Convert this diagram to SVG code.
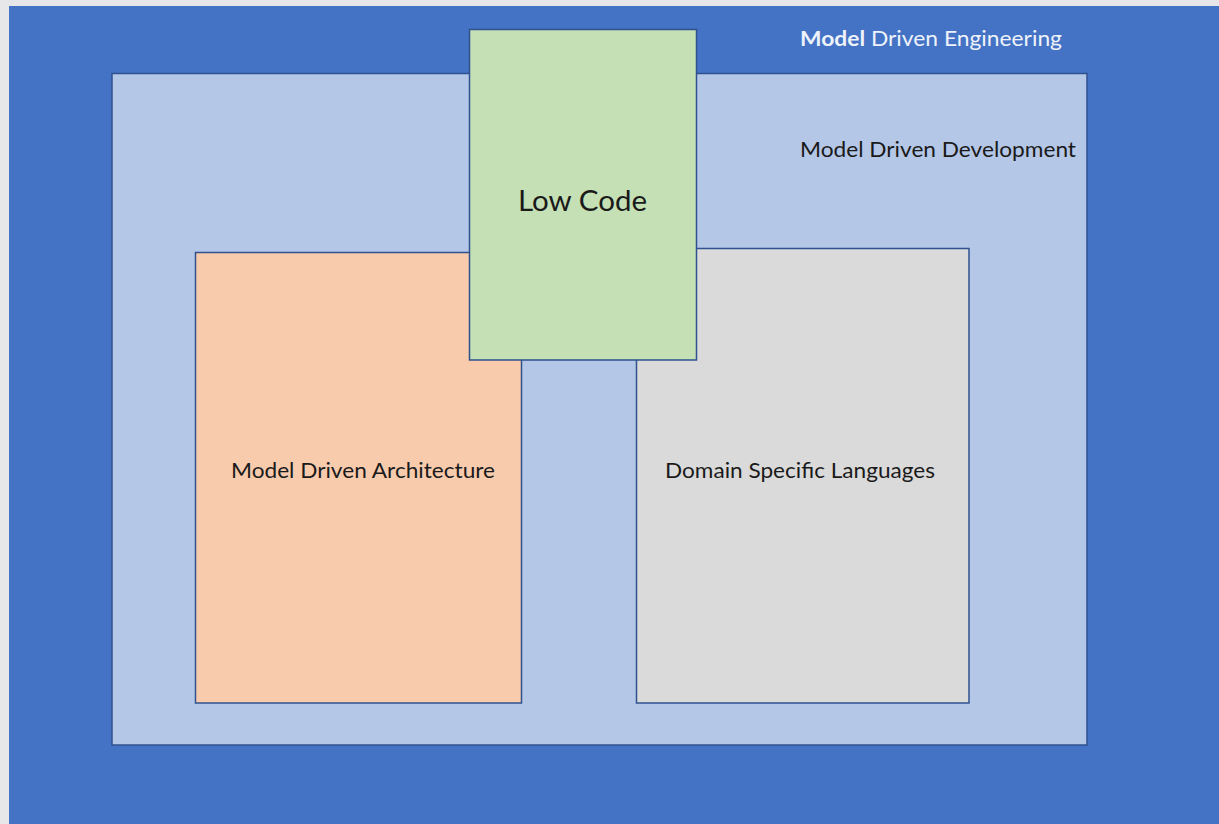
<svg xmlns="http://www.w3.org/2000/svg" width="1219" height="824" viewBox="0 0 1219 824">
<style>
.box{stroke:#2f528f;stroke-width:1.5}
.lbl{font-family:Lato,"Open Sans",sans-serif;fill:#1a1a1a}
</style>
<rect x="0" y="0" width="1219" height="824" fill="#e7e7ea"/>
<g id="mde">
<rect x="9" y="6" width="1210" height="818" fill="#4472c4"/>
<text x="800" y="46" class="lbl" style="fill:#eef2fa" font-size="21" textLength="262" lengthAdjust="spacingAndGlyphs"><tspan font-weight="bold">Model</tspan> Driven Engineering</text>
</g>
<g id="mdd">
<rect class="box" x="112" y="73.5" width="975" height="671.5" fill="#b4c7e7"/>
<text x="800" y="157" class="lbl" font-size="21" textLength="276" lengthAdjust="spacingAndGlyphs">Model Driven Development</text>
</g>
<g id="mda">
<rect class="box" x="195.5" y="252.5" width="326" height="450.5" fill="#f8cbad"/>
<text x="231" y="478" class="lbl" font-size="21" textLength="264" lengthAdjust="spacingAndGlyphs">Model Driven Architecture</text>
</g>
<g id="dsl">
<rect class="box" x="636.5" y="248.5" width="332.5" height="454.5" fill="#dadada"/>
<text x="665" y="478" class="lbl" font-size="21" textLength="270" lengthAdjust="spacingAndGlyphs">Domain Specific Languages</text>
</g>
<g id="lowcode">
<rect class="box" x="469.5" y="29.5" width="227" height="330.5" fill="#c5e0b4"/>
<text x="518" y="211" class="lbl" font-size="28" textLength="129" lengthAdjust="spacingAndGlyphs">Low Code</text>
</g>
<g id="connectors"/>
</svg>
